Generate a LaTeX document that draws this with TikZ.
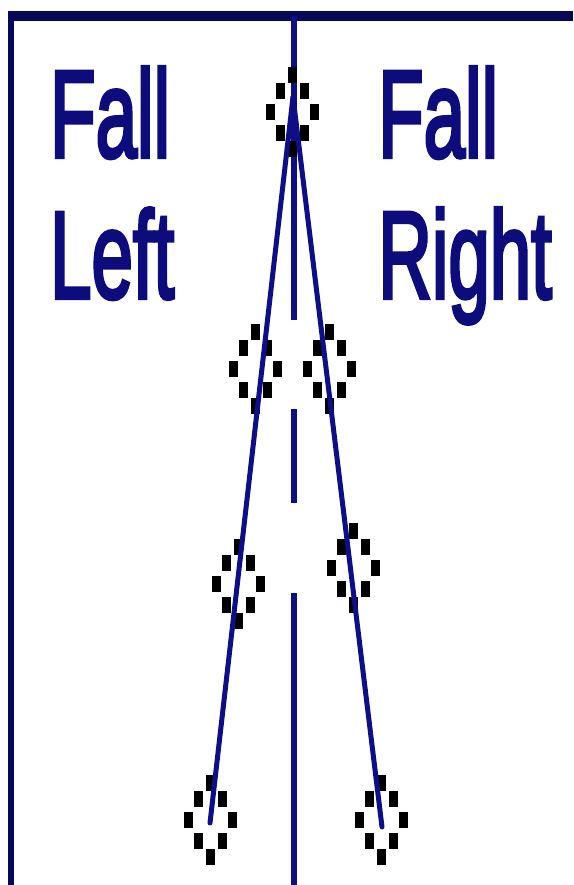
\documentclass[tikz,border=0pt]{standalone}
\usepackage{fontspec}
\setmainfont{Liberation Sans}
\newfontfamily\labfont[BoldFont={Liberation Sans}, BoldFeatures={FakeBold=3.5}]{Liberation Sans}
\definecolor{framenavy}{RGB}{8,8,90}
\definecolor{linenavy}{RGB}{14,14,135}
\definecolor{textnavy}{RGB}{12,12,125}
\tikzset{
  framepen/.style={draw=framenavy, line cap=butt},
  rodpen/.style={draw=linenavy, line width=5pt, line cap=round},
  midpen/.style={draw=linenavy, line width=6pt, line cap=butt},
  label/.style={anchor=base west, inner sep=0pt, text=textnavy,
    font=\labfont\fontsize{124}{124}\selectfont\bfseries},
  pics/dotdiamond/.style={code={
    \foreach \dx/\dy in {0/-37, -12/-21, 12/-21, -22/0, 22/0, -12/21, 12/21, 0/37}
      \fill[black] ($(\dx,\dy)+(-4.5,-8)$) rectangle ($(\dx,\dy)+(4.5,8)$);
  }}
}
\usetikzlibrary{calc}
\begin{document}
\begin{tikzpicture}[x=1pt, y=-1pt]
\useasboundingbox (0,0) rectangle (573,885);
\fill[white] (0,0) rectangle (573,885);
% frame
\draw[framepen, line width=10pt] (8,16) -- (573,16);
\draw[framepen, line width=6pt] (11,11) -- (11,885);
% centre line
\coordinate (ctop) at (293.5,16);
\coordinate (c1) at (293.5,320);
\coordinate (c2) at (293.5,409);
\coordinate (c3) at (293.5,503);
\coordinate (c4) at (293.5,593);
\coordinate (cbot) at (293.5,885);
\draw[midpen] (ctop) -- (c1);
\draw[midpen] (c2) -- (c3);
\draw[midpen] (c4) -- (cbot);
% texts
\node[label] (fl1) at (50,157) {\scalebox{0.6}[1]{Fall}};
\node[label] (fl2) at (50,298) {\scalebox{0.6}[1]{Left}};
\node[label] (fr1) at (378,157) {\scalebox{0.6}[1]{Fall}};
\node[label] (fr2) at (378,298) {\scalebox{0.6}[1]{Right}};
% diamonds
\coordinate (d0) at (292,112);
\coordinate (dl1) at (255,369);
\coordinate (dr1) at (329,369);
\coordinate (dl2) at (238,584);
\coordinate (dr2) at (353,568);
\coordinate (dl3) at (210,820);
\coordinate (dr3) at (381,820);
\foreach \p in {d0,dl1,dr1,dl2,dr2,dl3,dr3}
  \pic at (\p) {dotdiamond};
% rods
\coordinate (apex) at (293,97);
\coordinate (lend) at (210,823);
\coordinate (rend) at (382,827);
\draw[rodpen] (apex) -- (lend);
\draw[rodpen] (apex) -- (rend);
\end{tikzpicture}
\end{document}
